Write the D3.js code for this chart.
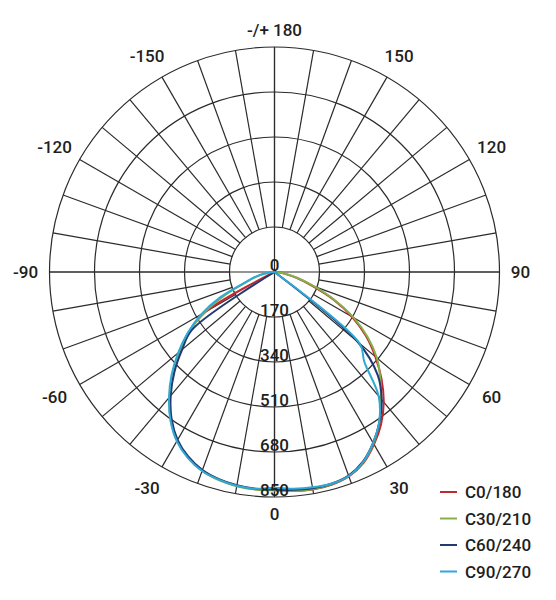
<!DOCTYPE html>
<html>
<head>
<meta charset="utf-8">
<script src="https://cdn.jsdelivr.net/npm/d3@7"></script>
<style>
  body { margin: 0; background: #fff; }
  svg { display: block; font-family: Roboto, "DejaVu Sans", sans-serif; font-weight: 500; }
</style>
</head>
<body>
<svg width="556" height="600"></svg>
<script>
const svg = d3.select('svg');
const cx = 274.5, cy = 272, outerR = 225;

// gamma angles, 0 = straight down, positive to the right
const angles = [-90,-85,-80,-75,-70,-65,-60,-55,-50,-45,-40,-35,-30,-25,-20,-15,-10,-5,0,
  5,10,15,20,25,30,35,40,45,50,55,60,65,70,75,80,85,90];

const c0_180 = [0,0,0,0,0,0,300,395,470,545,615,680,735,772,798,812,820,824,824,
  830,834,832,822,796,752,702,642,572,497,422,338,245,150,88,40,15,0];
const c30_210 = [0,15,40,75,115,205,305,395,470,545,618,683,737,774,800,814,822,825,825,
  830,833,830,820,793,748,690,625,565,505,430,345,250,160,95,45,15,0];
const c60_240 = [0,0,0,0,0,0,0,380,455,535,610,678,732,770,796,810,818,822,822,
  826,830,828,818,790,745,692,630,552,410,0,0,0,0,0,0,0,0];
const c90_270 = [0,20,45,80,125,225,320,400,475,550,620,685,738,775,800,812,820,822,815,
  822,826,828,820,792,745,690,612,480,420,0,0,0,0,0,0,0,0];

const seriesNames = ["C0/180","C30/210","C60/240","C90/270"];
const seriesValues = [c0_180, c30_210, c60_240, c90_270];
const seriesColors = ["#c0282f","#86b04a","#223a72","#2fa9d6"];

const ringValues = [170,340,510,680,850];
const ringLabels = ["0","170","340","510","680","850"];
const angleLabels = [0,30,60,90,120,150,180,-150,-120,-90,-60,-30];

const r = d3.scaleLinear().domain([0, 850]).range([0, outerR]);
const toRad = (a) => Math.PI - a * Math.PI / 180;   // d3 radial angle
const px = (a, rr) => cx + rr * Math.sin(a * Math.PI / 180);
const py = (a, rr) => cy + rr * Math.cos(a * Math.PI / 180);

const grid = svg.append("g").attr("class", "grid")
  .attr("stroke", "#2b2b2b").attr("stroke-width", 1.2).attr("fill", "none");

grid.selectAll("circle")
  .data(ringValues)
  .enter()
  .append("circle")
  .attr("cx", cx).attr("cy", cy)
  .attr("r", (d) => r(d));

// spokes every 10 degrees from the first ring out
grid.selectAll(".spoke")
  .data(d3.range(0, 360, 10))
  .enter()
  .append("line")
  .attr("class", "spoke")
  .attr("x1", (d) => px(d, r(170)))
  .attr("y1", (d) => py(d, r(170)))
  .attr("x2", (d) => px(d, r(850)))
  .attr("y2", (d) => py(d, r(850)));

// main axes through the centre
grid.selectAll(".axis")
  .data([0, 90])
  .enter()
  .append("line")
  .attr("class", "axis")
  .attr("x1", (d) => px(d, r(850)))
  .attr("y1", (d) => py(d, r(850)))
  .attr("x2", (d) => px(d + 180, r(850)))
  .attr("y2", (d) => py(d + 180, r(850)));

// curves
const line = d3.lineRadial()
  .angle((d) => toRad(d[0]))
  .radius((d) => r(d[1]))
  .curve(d3.curveCatmullRom.alpha(0.5));

svg.append("g")
  .attr("transform", `translate(${cx},${cy})`)
  .selectAll("path")
  .data(seriesValues)
  .enter()
  .append("path")
  .attr("d", (vals) => line(angles.map((a, i) => [a, vals[i]])))
  .attr("fill", "none")
  .attr("stroke", (d, i) => seriesColors[i])
  .attr("stroke-width", 2)
  .attr("stroke-linejoin", "round");

// ring value labels along the 0 axis
svg.append("g")
  .selectAll("text")
  .data(ringLabels)
  .enter()
  .append("text")
  .attr("x", cx)
  .attr("y", (d) => cy + r(+d) - 1.5)
  .attr("text-anchor", "middle")
  .attr("font-size", 17)
  .attr("fill", "#1e1e1e")
  .text((d) => d);

// angle labels outside the circle
const labelR = (a) => {
  const t = a * Math.PI / 180;
  return 242 + 4 * Math.abs(Math.sin(t)) + 6 * Math.abs(Math.sin(2 * t));
};
const angG = svg.append("g").attr("font-size", 17).attr("fill", "#1e1e1e");
angleLabels.forEach((a) => {
  const x = px(a, labelR(a)), y = py(a, labelR(a));
  if (a === 180) {
    angG.append("text").attr("x", x).attr("y", y)
      .attr("text-anchor", "middle").attr("dominant-baseline", "central")
      .text("-/+ 180");
    return;
  }
  const t = angG.append("text").attr("x", x).attr("y", y)
    .attr("text-anchor", "middle").attr("dominant-baseline", "central")
    .text(Math.abs(a));
  if (a < 0) {
    // keep the digits centred, let the minus sign hang to the left
    const w = t.node().getComputedTextLength();
    t.attr("text-anchor", "end").attr("x", x + w / 2).text("-" + Math.abs(a));
  }
});

// legend
const legend = svg.append("g")
  .selectAll("g")
  .data(seriesNames)
  .enter()
  .append("g")
  .attr("transform", (d, i) => `translate(440,${492 + i * 26.5})`);

legend.append("line")
  .attr("x1", 0).attr("x2", 17)
  .attr("stroke", (d, i) => seriesColors[i])
  .attr("stroke-width", 2);

legend.append("text")
  .attr("x", 25)
  .attr("dominant-baseline", "central")
  .attr("font-size", 17)
  .attr("fill", "#1e1e1e")
  .text((d) => d);
</script>
</body>
</html>
